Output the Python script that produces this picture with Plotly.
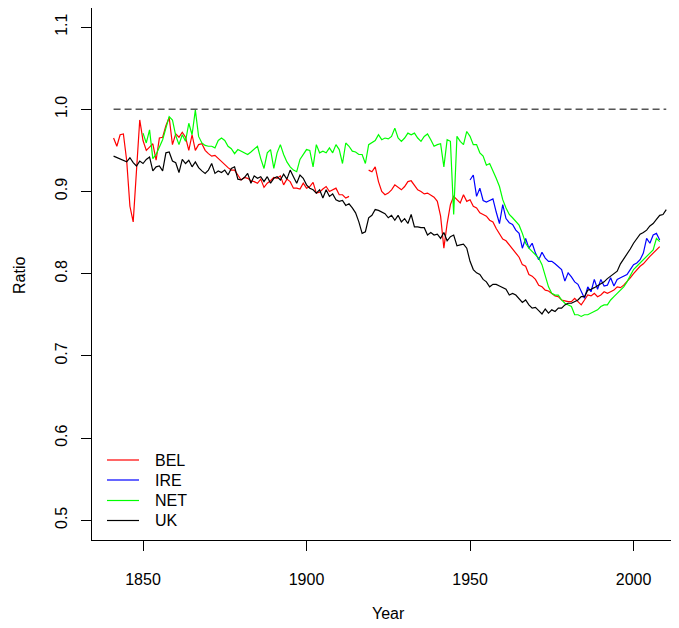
import plotly.graph_objects as go

# ---------------- data ----------------
bel_years = list(range(1841, 2009))
bel_values = [
    0.965, 0.955, 0.969, 0.970, 0.938, 0.882, 0.863, 0.930, 0.987, 0.962,
    0.950, 0.954, 0.958, 0.938, 0.965, 0.966, 0.980, 0.990, 0.957, 0.970,
    0.966, 0.972, 0.966, 0.950, 0.969, 0.950, 0.957, 0.958, 0.950, 0.946,
    0.943, 0.944, 0.940, 0.937, 0.932, 0.929, 0.926, 0.926, 0.920, 0.914,
    0.917, 0.916, 0.913, 0.912, 0.910, 0.915, 0.905, 0.910, 0.913, 0.917,
    0.916, 0.919, 0.908, 0.915, 0.912, 0.904, 0.904, 0.903, 0.910, 0.904,
    0.906, 0.911, 0.898, 0.899, 0.903, 0.906, 0.900, 0.902, 0.904, 0.896,
    0.896, 0.892, 0.894, None, None, None, None, None, 0.926, 0.924,
    0.930, 0.912, 0.900, 0.896, 0.898, 0.902, 0.908, 0.905, 0.902, 0.906,
    0.912, 0.913, 0.908, 0.902, 0.900, 0.897, 0.898, 0.896, 0.893, 0.888,
    0.870, 0.831, 0.861, 0.884, 0.894, 0.890, 0.886, 0.896, 0.888, 0.890,
    0.882, 0.880, 0.874, 0.872, 0.870, 0.865, 0.863, 0.855, 0.848, 0.842,
    0.840, 0.835, 0.829, 0.825, 0.820, 0.811, 0.809, 0.799, 0.797, 0.793,
    0.786, 0.784, 0.780, 0.779, 0.776, 0.773, 0.772, 0.768, 0.767, 0.766,
    0.766, 0.770, 0.766, 0.762, 0.768, 0.774, 0.773, 0.776, 0.772, 0.774,
    0.778, 0.776, 0.778, 0.780, 0.784, 0.783, 0.786, 0.790, 0.795, 0.800,
    0.805, 0.809, 0.812, 0.817, 0.821, 0.825, 0.829, 0.833,
]

ire_years = list(range(1950, 2009))
ire_values = [
    0.914, 0.920, 0.894, 0.904, 0.889, 0.887, 0.889, 0.891, 0.875, 0.861,
    0.884, 0.867, 0.862, 0.860, 0.853, 0.849, 0.831, 0.843, 0.831, 0.837,
    0.825, 0.817, 0.826, 0.819, 0.815, 0.815, 0.812, 0.809, 0.805, 0.791,
    0.801, 0.796, 0.790, 0.787, 0.778, 0.770, 0.784, 0.778, 0.793, 0.781,
    0.793, 0.785, 0.786, 0.795, 0.785, 0.793, 0.795, 0.797, 0.799, 0.805,
    0.811, 0.813, 0.817, 0.825, 0.843, 0.837, 0.847, 0.849, 0.841,
]

net_years = list(range(1850, 2009))
net_values = [
    0.971, 0.959, 0.975, 0.940, 0.945, 0.954, 0.963, 0.977, 0.991, 0.987,
    0.968, 0.957, 0.969, 0.961, 0.983, 0.969, 0.999, 0.967, 0.959, 0.956,
    0.955, 0.955, 0.953, 0.962, 0.965, 0.962, 0.955, 0.952, 0.946, 0.951,
    0.949, 0.946, 0.945, 0.948, 0.952, 0.955, 0.940, 0.928, 0.947, 0.951,
    0.928, 0.947, 0.957, 0.945, 0.936, 0.930, 0.926, 0.924, 0.939, 0.945,
    0.951, 0.950, 0.930, 0.957, 0.947, 0.949, 0.947, 0.953, 0.947, 0.957,
    0.951, 0.934, 0.959, 0.955, 0.949, 0.948, 0.945, 0.945, 0.934, 0.957,
    0.959, 0.962, 0.969, 0.963, 0.965, 0.964, 0.967, 0.977, 0.965, 0.961,
    0.965, 0.971, 0.969, 0.971, 0.965, 0.961, 0.967, 0.970, 0.963, 0.955,
    0.957, 0.958, 0.930, 0.963, 0.961, 0.872, 0.967, 0.961, 0.957, 0.973,
    0.967, 0.957, 0.957, 0.947, 0.943, 0.932, 0.934, 0.926, 0.916, 0.906,
    0.890, 0.880, 0.872, 0.868, 0.864, 0.859, 0.849, 0.837, 0.831, 0.827,
    0.823, 0.819, 0.811, 0.797, 0.784, 0.776, 0.774, 0.774, 0.768, 0.764,
    0.762, 0.760, 0.750, 0.750, 0.748, 0.750, 0.750, 0.752, 0.753, 0.756,
    0.760, 0.762, 0.762, 0.768, 0.772, 0.776, 0.780, 0.784, 0.790, 0.798,
    0.805, 0.809, 0.813, 0.817, 0.821, 0.825, 0.829, 0.843, 0.839,
]

uk_years = list(range(1841, 2011))
uk_values = [
    0.943, 0.941, 0.939, 0.937, 0.936, 0.941, 0.935, 0.931, 0.937, 0.934,
    0.939, 0.942, 0.925, 0.930, 0.931, 0.925, 0.947, 0.948, 0.937, 0.935,
    0.923, 0.939, 0.934, 0.938, 0.930, 0.936, 0.929, 0.925, 0.922, 0.926,
    0.934, 0.922, 0.925, 0.923, 0.926, 0.920, 0.928, 0.930, 0.915, 0.914,
    0.917, 0.922, 0.910, 0.919, 0.916, 0.918, 0.912, 0.918, 0.910, 0.916,
    0.918, 0.914, 0.921, 0.915, 0.926, 0.918, 0.910, 0.920, 0.916, 0.908,
    0.904, 0.902, 0.898, 0.902, 0.892, 0.902, 0.894, 0.897, 0.890, 0.888,
    0.889, 0.883, 0.885, 0.880, 0.874, 0.863, 0.849, 0.851, 0.868, 0.871,
    0.878, 0.877, 0.875, 0.873, 0.868, 0.871, 0.865, 0.871, 0.863, 0.867,
    0.861, 0.872, 0.857, 0.857, 0.856, 0.856, 0.847, 0.850, 0.847, 0.848,
    0.843, 0.850, 0.840, 0.845, 0.847, 0.834, 0.835, 0.836, 0.831, 0.815,
    0.805, 0.801, 0.799, 0.793, 0.790, 0.784, 0.787, 0.787, 0.785, 0.783,
    0.781, 0.774, 0.776, 0.774, 0.770, 0.765, 0.768, 0.762, 0.758, 0.759,
    0.755, 0.751, 0.757, 0.752, 0.756, 0.754, 0.758, 0.758, 0.762, 0.764,
    0.764, 0.766, 0.768, 0.772, 0.772, 0.780, 0.781, 0.783, 0.785, 0.787,
    0.790, 0.794, 0.797, 0.800, 0.803, 0.812, 0.818, 0.823, 0.830, 0.837,
    0.842, 0.848, 0.850, 0.853, 0.858, 0.861, 0.866, 0.871, 0.872, 0.878,
]

ref_years = [1841, 2010]
ref_values = [1.0, 1.0]

series_names = ["BEL", "IRE", "NET", "UK"]
series_colors = ["#FF0000", "#0000FF", "#00FF00", "#000000"]

x_ticks = [1850, 1900, 1950, 2000]
y_ticks = [0.5, 0.6, 0.7, 0.8, 0.9, 1.0, 1.1]
y_tick_labels = ["0.5", "0.6", "0.7", "0.8", "0.9", "1.0", "1.1"]

# ---------------- figure ----------------
FONT = "Liberation Sans, Arial, Helvetica, sans-serif"
OFF = 8  # the page body has an 8px margin; compensate so the page matches
W, H = 679 - OFF, 628 - OFF
L, R, T, B = 92 - OFF, 0, 0, 88
PW, PH = W - L - R, H - T - B
PLOT_LEFT_PAGE = L + OFF
PLOT_BOTTOM_PAGE = H - B + OFF

fig = go.Figure()

fig.add_trace(go.Scatter(x=ref_years, y=ref_values, mode="lines",
                         line=dict(color="#555555", width=1.5, dash="7px,4px"),
                         showlegend=False, hoverinfo="skip"))

data = [(bel_years, bel_values), (ire_years, ire_values),
        (net_years, net_values), (uk_years, uk_values)]
for (xs, ys), name, col in zip(data, series_names, series_colors):
    fig.add_trace(go.Scatter(x=xs, y=ys, mode="lines", name=name,
                             line=dict(color=col, width=1.2),
                             connectgaps=False, showlegend=False))


def px_x(p):
    return (p - PLOT_LEFT_PAGE) / PW


def px_y(p):
    return (PLOT_BOTTOM_PAGE - p) / PH


shapes = []
annotations = []
legend_rows = [460, 480, 500.5, 520.5]
for name, col, yy in zip(series_names, series_colors, legend_rows):
    shapes.append(dict(type="line", xref="paper", yref="paper",
                       x0=px_x(107), x1=px_x(139), y0=px_y(yy), y1=px_y(yy),
                       line=dict(color=col, width=1.2)))
    annotations.append(dict(text=name, xref="paper", yref="paper",
                            x=px_x(153), y=px_y(yy), xanchor="left", yanchor="middle",
                            showarrow=False, font=dict(family=FONT, size=16, color="black")))

annotations.append(dict(text="Year", xref="paper", yref="paper",
                        x=px_x(389), y=px_y(613), xanchor="center", yanchor="middle",
                        showarrow=False, font=dict(family=FONT, size=16, color="black")))
annotations.append(dict(text="Ratio", xref="paper", yref="paper",
                        x=px_x(19), y=px_y(276), xanchor="center", yanchor="middle",
                        textangle=-90, showarrow=False,
                        font=dict(family=FONT, size=16, color="black")))

fig.update_layout(
    width=W, height=H,
    margin=dict(l=L, r=R, t=T, b=B, pad=0),
    paper_bgcolor="white", plot_bgcolor="white",
    font=dict(family=FONT, size=16, color="black"),
    showlegend=False,
    shapes=shapes, annotations=annotations,
    xaxis=dict(range=[1834.4, 2013.9], tickmode="array", tickvals=x_ticks,
               ticks="outside", ticklen=10, tickwidth=1, tickcolor="black",
               showline=True, linecolor="black", linewidth=1, mirror=True,
               showgrid=False, zeroline=False, ticklabelstandoff=15,
               tickfont=dict(family=FONT, size=16, color="black")),
    yaxis=dict(range=[0.476, 1.1232], tickmode="array", tickvals=y_ticks,
               ticktext=y_tick_labels, tickangle=-90,
               ticks="outside", ticklen=10, tickwidth=1, tickcolor="black",
               showline=True, linecolor="black", linewidth=1, mirror=False,
               showgrid=False, zeroline=False, ticklabelstandoff=8,
               tickfont=dict(family=FONT, size=16, color="black")),
)

fig.write_html("out.html")
